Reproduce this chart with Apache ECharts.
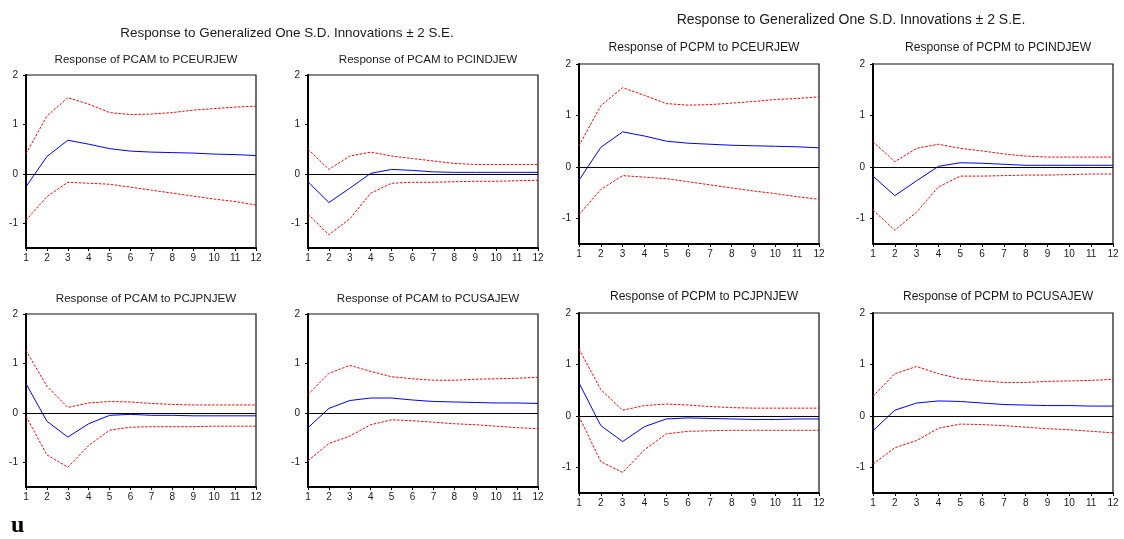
<!DOCTYPE html>
<html>
<head>
<meta charset="utf-8">
<script src="https://cdn.jsdelivr.net/npm/echarts@6/dist/echarts.min.js"></script>
<style>
html,body{margin:0;padding:0;background:#fff;}
#chart{width:1124px;height:539px;}
</style>
</head>
<body>
<div id="chart"></div>
<script>
// ---- data ----
const periods = ['1','2','3','4','5','6','7','8','9','10','11','12'];
const yTicks = [-1, 0, 1, 2];

const mainTitle = 'Response to Generalized One S.D. Innovations \u00B1 2 S.E.';
const panelTitles = [
  'Response of PCAM to PCEURJEW', 'Response of PCAM to PCINDJEW',
  'Response of PCAM to PCJPNJEW', 'Response of PCAM to PCUSAJEW',
  'Response of PCPM to PCEURJEW', 'Response of PCPM to PCINDJEW',
  'Response of PCPM to PCJPNJEW', 'Response of PCPM to PCUSAJEW'
];

// PCAM responses
const pcamEurResp  = [-0.26, 0.35, 0.68, 0.60, 0.51, 0.46, 0.44, 0.43, 0.42, 0.40, 0.39, 0.37];
const pcamEurUpper = [0.41, 1.17, 1.54, 1.41, 1.24, 1.20, 1.21, 1.24, 1.29, 1.32, 1.35, 1.37];
const pcamEurLower = [-0.94, -0.46, -0.17, -0.19, -0.21, -0.27, -0.33, -0.39, -0.45, -0.51, -0.56, -0.63];

const pcamIndResp  = [-0.16, -0.58, -0.29, 0.01, 0.09, 0.07, 0.04, 0.03, 0.03, 0.03, 0.03, 0.03];
const pcamIndUpper = [0.50, 0.09, 0.36, 0.44, 0.36, 0.31, 0.26, 0.21, 0.19, 0.19, 0.19, 0.19];
const pcamIndLower = [-0.82, -1.23, -0.91, -0.39, -0.19, -0.17, -0.17, -0.16, -0.15, -0.15, -0.14, -0.13];

const pcamJpnResp  = [0.59, -0.17, -0.49, -0.22, -0.05, -0.03, -0.05, -0.05, -0.06, -0.06, -0.06, -0.06];
const pcamJpnUpper = [1.26, 0.54, 0.11, 0.20, 0.23, 0.22, 0.19, 0.17, 0.16, 0.16, 0.16, 0.16];
const pcamJpnLower = [-0.07, -0.85, -1.10, -0.66, -0.35, -0.29, -0.28, -0.28, -0.28, -0.27, -0.27, -0.27];

const pcamUsaResp  = [-0.30, 0.09, 0.25, 0.30, 0.30, 0.26, 0.23, 0.22, 0.21, 0.20, 0.20, 0.19];
const pcamUsaUpper = [0.37, 0.80, 0.96, 0.84, 0.73, 0.69, 0.66, 0.66, 0.68, 0.69, 0.70, 0.72];
const pcamUsaLower = [-0.97, -0.62, -0.47, -0.24, -0.14, -0.16, -0.19, -0.22, -0.24, -0.27, -0.30, -0.32];

// PCPM responses
const pcpmEurResp  = [-0.26, 0.38, 0.68, 0.60, 0.50, 0.46, 0.44, 0.42, 0.41, 0.40, 0.39, 0.37];
const pcpmEurUpper = [0.41, 1.19, 1.54, 1.39, 1.23, 1.20, 1.21, 1.24, 1.27, 1.31, 1.33, 1.36];
const pcpmEurLower = [-0.93, -0.44, -0.17, -0.20, -0.23, -0.29, -0.35, -0.41, -0.47, -0.52, -0.58, -0.63];

const pcpmIndResp  = [-0.18, -0.56, -0.27, 0.01, 0.08, 0.07, 0.05, 0.03, 0.03, 0.03, 0.03, 0.03];
const pcpmIndUpper = [0.49, 0.10, 0.36, 0.44, 0.36, 0.31, 0.25, 0.21, 0.19, 0.19, 0.19, 0.19];
const pcpmIndLower = [-0.84, -1.23, -0.88, -0.39, -0.18, -0.18, -0.17, -0.16, -0.16, -0.15, -0.14, -0.14];

const pcpmJpnResp  = [0.64, -0.19, -0.50, -0.21, -0.06, -0.04, -0.05, -0.06, -0.07, -0.07, -0.06, -0.06];
const pcpmJpnUpper = [1.30, 0.51, 0.11, 0.20, 0.23, 0.21, 0.18, 0.16, 0.15, 0.15, 0.15, 0.15];
const pcpmJpnLower = [-0.01, -0.89, -1.10, -0.66, -0.35, -0.30, -0.29, -0.28, -0.28, -0.28, -0.28, -0.28];

const pcpmUsaResp  = [-0.29, 0.11, 0.25, 0.29, 0.28, 0.25, 0.22, 0.21, 0.20, 0.20, 0.19, 0.19];
const pcpmUsaUpper = [0.38, 0.82, 0.96, 0.82, 0.72, 0.68, 0.65, 0.65, 0.67, 0.68, 0.69, 0.71];
const pcpmUsaLower = [-0.94, -0.62, -0.48, -0.24, -0.16, -0.17, -0.19, -0.22, -0.25, -0.27, -0.30, -0.33];

const panelData = [
  [pcamEurResp, pcamEurUpper, pcamEurLower],
  [pcamIndResp, pcamIndUpper, pcamIndLower],
  [pcamJpnResp, pcamJpnUpper, pcamJpnLower],
  [pcamUsaResp, pcamUsaUpper, pcamUsaLower],
  [pcpmEurResp, pcpmEurUpper, pcpmEurLower],
  [pcpmIndResp, pcpmIndUpper, pcpmIndLower],
  [pcpmJpnResp, pcpmJpnUpper, pcpmJpnLower],
  [pcpmUsaResp, pcpmUsaUpper, pcpmUsaLower]
];

// ---- layout ----
const boxes = [
  {left: 26,  top: 75,  width: 230, height: 173, tsize: 11.6, ty: 49},
  {left: 308, top: 75,  width: 230, height: 173, tsize: 11.6, ty: 49},
  {left: 26,  top: 314, width: 230, height: 173, tsize: 11.6, ty: 288},
  {left: 308, top: 314, width: 230, height: 173, tsize: 11.6, ty: 288},
  {left: 579, top: 64,  width: 240, height: 180, tsize: 12.1, ty: 37},
  {left: 873, top: 64,  width: 240, height: 180, tsize: 12.1, ty: 37},
  {left: 579, top: 313, width: 240, height: 180, tsize: 12.1, ty: 286},
  {left: 873, top: 313, width: 240, height: 180, tsize: 12.1, ty: 286}
];

const FONT = 'Liberation Sans, Arial, sans-serif';
const TXT = '#1a1a1a';
const grids = [], xAxes = [], yAxes = [], series = [], titles = [];

titles.push({text: mainTitle, left: 282, top: 22, textAlign: 'center',
  textStyle: {fontFamily: FONT, fontSize: 13.4, fontWeight: 'normal', color: TXT}});
titles.push({text: mainTitle, left: 846, top: 8, textAlign: 'center',
  textStyle: {fontFamily: FONT, fontSize: 14, fontWeight: 'normal', color: TXT}});

boxes.forEach((b, i) => {
  grids.push({left: b.left, top: b.top, width: b.width, height: b.height,
    show: true, borderColor: '#111', borderWidth: 1.2, backgroundColor: 'transparent'});
  titles.push({text: panelTitles[i], left: b.left + b.width / 2, top: b.ty, textAlign: 'center',
    textStyle: {fontFamily: FONT, fontSize: b.tsize, fontWeight: 'normal', color: TXT}});
  xAxes.push({type: 'category', gridIndex: i, data: periods, boundaryGap: false, position: 'bottom',
    axisLine: {onZero: false, lineStyle: {color: '#000', width: 2}},
    axisTick: {show: true, length: 3, interval: 0, lineStyle: {color: '#000'}},
    axisLabel: {interval: 0, margin: 5, fontFamily: FONT, fontSize: 10, color: TXT},
    splitLine: {show: false}});
  yAxes.push({type: 'value', gridIndex: i, min: -1.5, max: 2, position: 'left',
    axisLine: {show: true, onZero: false, lineStyle: {color: '#000', width: 2}},
    axisTick: {show: true, length: 3, customValues: yTicks, lineStyle: {color: '#000'}},
    axisLabel: {customValues: yTicks, margin: 8, fontFamily: FONT, fontSize: 10, color: TXT},
    splitLine: {show: false}});
  const [resp, upper, lower] = panelData[i];
  [upper, lower].forEach(d => series.push({type: 'line', xAxisIndex: i, yAxisIndex: i, data: d,
    symbol: 'none', silent: true,
    lineStyle: {color: '#ff0000', width: 1, type: [2.5, 1.5]}}));
  series.push({type: 'line', xAxisIndex: i, yAxisIndex: i, data: resp,
    symbol: 'none', silent: true, z: 3,
    lineStyle: {color: '#0000ff', width: 1},
    markLine: {silent: true, symbol: 'none', label: {show: false},
      lineStyle: {color: '#000', width: 1, type: 'solid'},
      data: [{yAxis: 0}]}});
});

const chart = echarts.init(document.getElementById('chart'), null, {renderer: 'canvas'});
chart.setOption({
  animation: false,
  backgroundColor: '#fff',
  title: titles,
  grid: grids,
  xAxis: xAxes,
  yAxis: yAxes,
  series: series,
  graphic: [{type: 'text', left: 11, top: 514,
    style: {text: 'u', font: 'bold 24px "Liberation Serif", "DejaVu Serif", serif', fill: '#000'}}]
});
</script>
</body>
</html>
